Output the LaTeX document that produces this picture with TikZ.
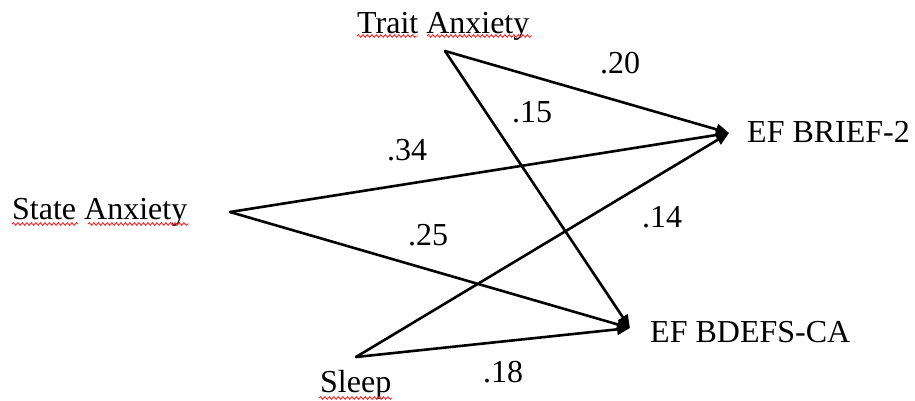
\documentclass[tikz,border=0pt]{standalone}
\usepackage{fontspec}
\setmainfont{Liberation Serif}
\usetikzlibrary{arrows.meta,decorations.pathmorphing}
\begin{document}
\begin{tikzpicture}[x=1pt,y=-1pt,
  lbl/.style={anchor=base west,inner sep=0pt,font=\fontsize{32}{38}\selectfont},
  path/.style={line width=2.6pt,line cap=round,-{Triangle[length=13pt,width=11pt]}},
  squig/.style={red!85!white,line width=0.9pt,decorate,decoration={snake,amplitude=1.3pt,segment length=4.5pt}}]
\useasboundingbox (0,0) rectangle (915,400);
% variable names
\node[lbl] (traitT) at (357,33) {Trait Anxiety};
\node[lbl] (stateT) at (12,219) {State Anxiety};
\node[lbl] (sleepT) at (320,392) {Sleep};
\node[lbl] (briefT) at (747,142) {EF BRIEF-2};
\node[lbl] (bdefsT) at (650,342) {EF BDEFS-CA};
% spell-check underlines
\draw[squig] (357,36) -- (418,36);
\draw[squig] (427,36) -- (532,36);
\draw[squig] (12,224) -- (78,224);
\draw[squig] (88,224) -- (189,224);
\draw[squig] (319,398) -- (392,398);
% connector end points
\coordinate (trait) at (445,51);
\coordinate (state) at (230,212);
\coordinate (sleep) at (356,357);
\coordinate (brief) at (729,133);
\coordinate (bdefs) at (630,328);
% paths
\draw[path] (trait) -- (brief);
\draw[path] (trait) -- (bdefs);
\draw[path] (state) -- (brief);
\draw[path] (state) -- (bdefs);
\draw[path] (sleep) -- (brief);
\draw[path] (sleep) -- (bdefs);
% coefficients
\node[lbl] (c20) at (600,73) {.20};
\node[lbl] (c15) at (512,122) {.15};
\node[lbl] (c34) at (387,160) {.34};
\node[lbl] (c25) at (408,245) {.25};
\node[lbl] (c14) at (642,227) {.14};
\node[lbl] (c18) at (483,382) {.18};
\end{tikzpicture}
\end{document}
